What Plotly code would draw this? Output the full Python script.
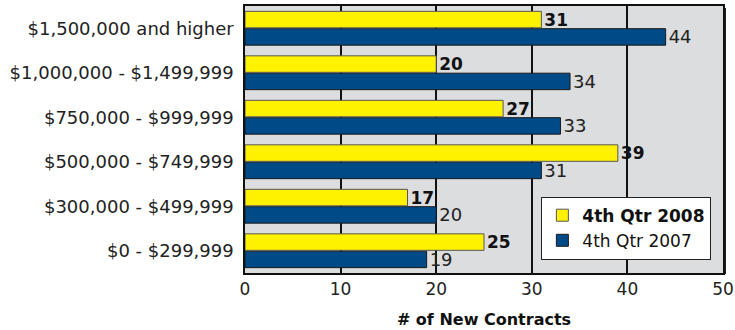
import plotly.graph_objects as go

categories = ["$0 - $299,999", "$300,000 - $499,999", "$500,000 - $749,999",
              "$750,000 - $999,999", "$1,000,000 - $1,499,999", "$1,500,000 and higher"]
q4_2008 = [25, 17, 39, 27, 20, 31]
q4_2007 = [19, 20, 31, 33, 34, 44]
x_ticks = [0, 10, 20, 30, 40, 50]

FONT = "DejaVu Sans"
fig = go.Figure()
fig.add_trace(go.Bar(
    y=categories, x=q4_2007, orientation="h", name="4th Qtr 2007",
    marker=dict(color="#004A87", line=dict(color="#1a1a1a", width=1)),
    texttemplate="%{x}", textposition="outside", constraintext="none",
    textfont=dict(color="#222", size=18, family=FONT), cliponaxis=False,
    legendrank=2,
))
fig.add_trace(go.Bar(
    y=categories, x=q4_2008, orientation="h", name="<b>4th Qtr 2008</b>",
    marker=dict(color="#FFF200", line=dict(color="#555", width=1)),
    texttemplate="<b>%{x}</b>", textposition="outside", constraintext="none",
    textfont=dict(color="#111", size=17, family=FONT), cliponaxis=False,
    legendrank=1,
))

W, H = 478, 267
fig.update_layout(
    width=735, height=330,
    margin=dict(l=245, r=12, t=6, b=57),
    paper_bgcolor="white", plot_bgcolor="#DCDDDF",
    barmode="group", bargap=0.22, bargroupgap=0.05,
    font=dict(family=FONT, size=17, color="#222"),
    showlegend=True,
    legend=dict(x=0.62, y=0.05, xanchor="left", yanchor="bottom",
                bgcolor="white", bordercolor="#222", borderwidth=1,
                font=dict(size=17, family=FONT, color="#111"),
                itemwidth=30, tracegroupgap=0),
    xaxis=dict(range=[0, 50], tickvals=x_ticks, showgrid=True, gridcolor="#111", gridwidth=2,
               showline=True, linecolor="#111", linewidth=2, mirror=True, zeroline=False,
               ticks="", tickfont=dict(size=17, family=FONT, color="#222"), automargin=False,
               title=dict(text="<b># of New Contracts</b>", font=dict(size=16, family=FONT, color="#111"),
                          standoff=15)),
    yaxis=dict(categoryorder="array", categoryarray=categories, showgrid=False,
               showline=True, linecolor="#111", linewidth=2, mirror=True, ticks="",
               ticksuffix=" ", automargin=False,
               tickfont=dict(size=18, family=FONT, color="#222")),
    shapes=[
        dict(type="rect", xref="paper", yref="paper", x0=1 + 1 / W, x1=1 + 3 / W,
             y0=-1 / H, y1=1 - 2 / H, fillcolor="#222", line=dict(width=0), layer="below"),
    ],
)
fig.write_html("out.html")
